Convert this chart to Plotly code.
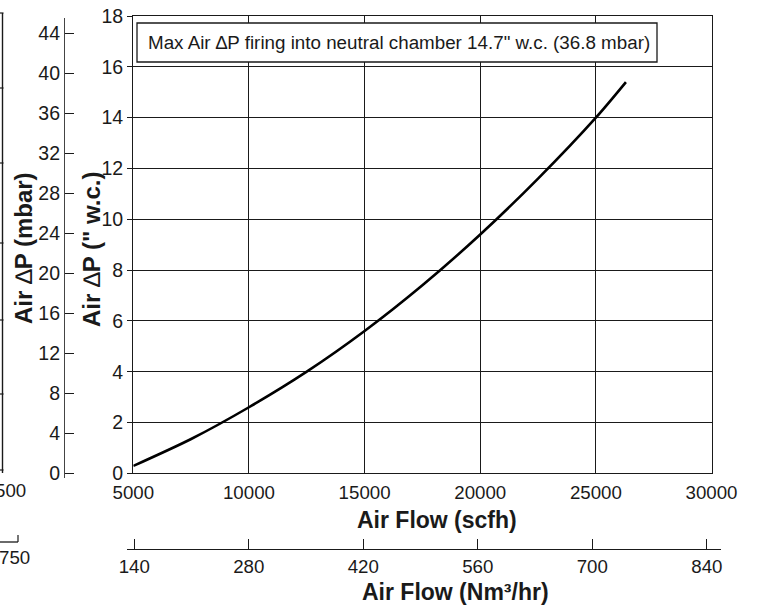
import plotly.graph_objects as go

W, H = 760, 606

# ---- data ----
air_flow_scfh = [5000, 7500, 10000, 12500, 15000, 17500, 20000, 22500, 25000, 26300]
air_dp_wc = [0.29, 1.35, 2.6, 4.0, 5.6, 7.4, 9.4, 11.6, 14.0, 15.4]

scfh_ticks = [5000, 10000, 15000, 20000, 25000, 30000]
wc_ticks = [0, 2, 4, 6, 8, 10, 12, 14, 16, 18]
mbar_ticks = [0, 4, 8, 12, 16, 20, 24, 28, 32, 36, 40, 44]
nm3_ticks = [140, 280, 420, 560, 700, 840]

note_text = 'Max Air \u2206P firing into neutral chamber 14.7" w.c. (36.8 mbar)'

FONT = "Liberation Sans, Arial, sans-serif"
INK = "#1a1a1a"


def px(x):
    return x / W


def py(y):
    return 1 - y / H


fig = go.Figure()

fig.add_trace(go.Scatter(
    x=air_flow_scfh, y=air_dp_wc, mode="lines",
    line=dict(color="black", width=2.6, shape="spline", smoothing=0.8),
    showlegend=False, hoverinfo="skip",
))
# empty trace to register the secondary (free) axes
fig.add_trace(go.Scatter(x=[], y=[], xaxis="x2", yaxis="y2", showlegend=False))

xtickfont = dict(family=FONT, size=18.7, color=INK)
ytickfont = dict(family=FONT, size=19.5, color=INK)

fig.update_layout(
    width=W, height=H,
    margin=dict(l=0, r=0, t=0, b=0),
    paper_bgcolor="white", plot_bgcolor="rgba(0,0,0,0)",
    font=dict(family=FONT, color=INK),
    xaxis=dict(
        domain=[px(133.3), px(711.5)], range=[5000, 30000],
        tickvals=scfh_ticks, ticktext=[str(v) for v in scfh_ticks],
        showgrid=True, gridcolor=INK, gridwidth=1.4,
        showline=True, linecolor=INK, linewidth=1.4, mirror=True,
        ticks="", tickfont=xtickfont, ticklabelstandoff=2,
        zeroline=False, automargin=False,
    ),
    yaxis=dict(
        domain=[py(473.3), py(16)], range=[0, 18],
        tickvals=wc_ticks, ticktext=[str(v) for v in wc_ticks],
        showgrid=True, gridcolor=INK, gridwidth=1.4,
        showline=True, linecolor=INK, linewidth=1.4, mirror=True,
        ticks="outside", ticklen=5, tickwidth=1.2, tickcolor=INK,
        tickfont=ytickfont, zeroline=False, automargin=False,
    ),
    yaxis2=dict(
        anchor="free", position=px(64), side="left",
        domain=[py(478), py(18)],
        range=[-(478 - 473.3) / 10.0, (473.3 - 18) / 10.0],
        tickvals=mbar_ticks, ticktext=[str(v) for v in mbar_ticks],
        showgrid=False, showline=True, linecolor="#444", linewidth=1.2,
        ticks="inside", ticklen=9, tickwidth=1.2, tickcolor=INK,
        tickfont=ytickfont, zeroline=False, automargin=False,
    ),
    xaxis2=dict(
        anchor="free", position=py(549.3), side="bottom",
        domain=[px(126.7), px(721)],
        range=[140 - (134.3 - 126.7) / 0.8179, 140 + (721 - 134.3) / 0.8179],
        tickvals=nm3_ticks, ticktext=[str(v) for v in nm3_ticks],
        showgrid=False, showline=True, linecolor=INK, linewidth=1.4,
        ticks="inside", ticklen=10, tickwidth=1.2, tickcolor=INK,
        tickfont=xtickfont, zeroline=False, automargin=False,
    ),
)

xtitle_font = dict(family=FONT, size=23, color=INK)
ytitle_font = dict(family=FONT, size=24, color=INK)
annotations = [
    dict(text="<b>Air Flow (scfh)</b>", x=px(437), y=py(520), font=xtitle_font),
    dict(text="<b>Air Flow (Nm\u00b3/hr)</b>", x=px(455), y=py(592), font=xtitle_font),
    dict(text='<b>Air </b>\u2206<b>P (" w.c.)</b>', x=px(91), y=py(250), textangle=-90, font=ytitle_font),
    dict(text="<b>Air </b>\u2206<b>P (mbar)</b>", x=px(23), y=py(248), textangle=-90, font=ytitle_font),
    dict(text=note_text, x=px(399), y=py(42.5), font=dict(family=FONT, size=18.8, color=INK)),
    # cropped remnants of the neighbouring chart on the left
    dict(text="500", x=px(28), y=py(490), xanchor="right", font=dict(family=FONT, size=18.7, color=INK)),
    dict(text="750", x=px(32), y=py(557), xanchor="right", font=dict(family=FONT, size=18.7, color=INK)),
]
for a in annotations:
    a.setdefault("xanchor", "center")
    a.update(xref="paper", yref="paper", yanchor="middle", showarrow=False)
fig.update_layout(annotations=annotations)

shapes = [
    # note box
    dict(type="rect", xref="paper", yref="paper",
         x0=px(137), x1=px(657), y0=py(62), y1=py(23),
         line=dict(color=INK, width=1.3), fillcolor="white", layer="above"),
    # neighbouring chart remnants
    dict(type="line", xref="paper", yref="paper", x0=px(2.5), x1=px(2.5), y0=py(13), y1=py(473),
         line=dict(color=INK, width=1.4)),
    dict(type="line", xref="paper", yref="paper", x0=px(0), x1=px(18), y0=py(542), y1=py(542),
         line=dict(color=INK, width=1.3)),
    dict(type="line", xref="paper", yref="paper", x0=px(18), x1=px(18), y0=py(542), y1=py(535),
         line=dict(color=INK, width=1.2)),
]
for yy in [13, 88, 163, 243, 320, 394, 470]:
    shapes.append(dict(type="line", xref="paper", yref="paper", x0=px(0), x1=px(3.5),
                       y0=py(yy), y1=py(yy), line=dict(color=INK, width=1.2)))
fig.update_layout(shapes=shapes)

fig.write_html("out.html")
